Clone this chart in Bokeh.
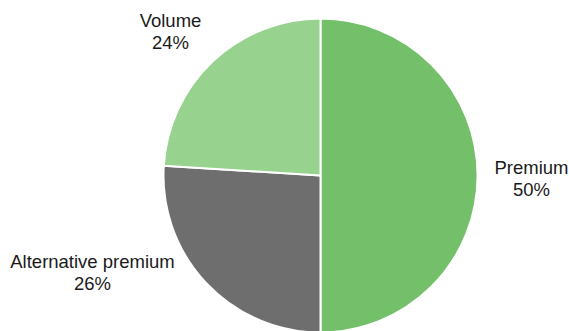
import math
from bokeh.plotting import figure
from bokeh.models import ColumnDataSource, Range1d
from bokeh.core.properties import value
from bokeh.embed import file_html
from bokeh.resources import INLINE

# ---- data ----
categories = ["Premium", "Alternative premium", "Volume"]
shares = [50, 26, 24]
colors = ["#74C06A", "#6E6E6E", "#98D28F"]

W, H = 569, 331
cx, cy, R = 320, 156, 157

# clockwise from 12 o'clock
total = sum(shares)
starts, ends = [], []
a = math.pi / 2
for s in shares:
    starts.append(a)
    a -= 2 * math.pi * s / total
    ends.append(a)

src = ColumnDataSource(dict(x=[cx] * 3, y=[cy] * 3, start=starts, end=ends,
                            color=colors, cat=categories))

p = figure(width=W, height=H, output_backend="svg", toolbar_location=None,
           x_range=Range1d(0, W), y_range=Range1d(0, H), min_border=0)
p.axis.visible = False
p.grid.visible = False
p.outline_line_color = None
p.background_fill_color = "white"
p.border_fill_color = "white"

p.wedge(x="x", y="y", radius=R, radius_units="screen", start_angle="start",
        end_angle="end", direction="clock", fill_color="color",
        line_color="white", line_width=2, source=src)

# label anchors (layout)
label_xy = {"Premium": (531, 164), "Alternative premium": (92, 70), "Volume": (170, 311)}
lx = [label_xy[c][0] for c in categories]
ly = [label_xy[c][1] for c in categories]
pct = [f"{s}%" for s in shares]

lab = ColumnDataSource(dict(x=lx, y=ly, name=categories,
                            y2=[v - 22 for v in ly], pct=pct))
common = dict(text_align="center", text_baseline="alphabetic",
              text_font=value("Liberation Sans"), text_font_size="18.5px",
              text_color="#1a1a1a", source=lab)
p.text(x="x", y="y", text="name", **common)
p.text(x="x", y="y2", text="pct", **common)

open("out.html", "w").write(file_html(p, INLINE))
